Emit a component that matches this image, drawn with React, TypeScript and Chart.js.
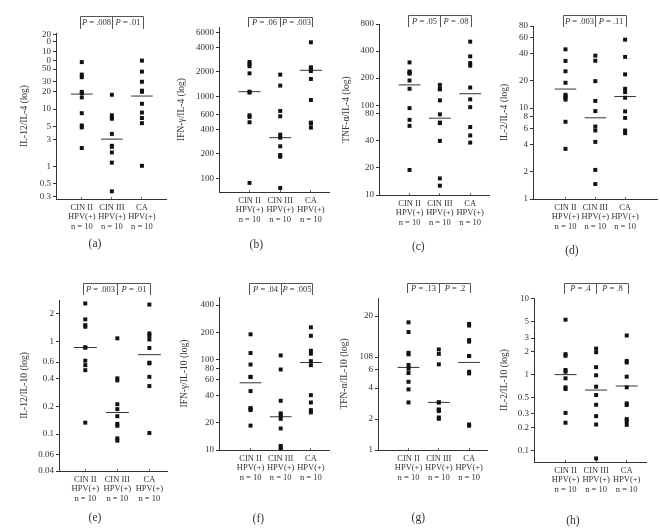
import React, { useEffect, useRef } from "react";
import { Chart, registerables } from "chart.js";
Chart.register(...registerables);

const FONT = "'Liberation Serif', 'Times New Roman', serif";

const categories = ["CIN II", "CIN III", "CA"];
const xLabelLines = [
  ["CIN II", "HPV(+)", "n = 10"],
  ["CIN III", "HPV(+)", "n = 10"],
  ["CA", "HPV(+)", "n = 10"],
];
const panelLetters = ["(a)", "(b)", "(c)", "(d)", "(e)", "(f)", "(g)", "(h)"];
const yTitles = [
  "IL-12/IL-4 (log)",
  "IFN-γ/IL-4 (log)",
  "TNF-α/IL-4 (log)",
  "IL-2/IL-4 (log)",
  "IL-12/IL-10 (log)",
  "IFN-γ/IL-10 (log)",
  "TFN-α/IL-10 (log)",
  "IL-2/IL-10 (log)",
];
const pLeft = [".008", ".06", ".05", ".003", ".003", ".04", ".13", ".4"];
const pRight = [".01", ".003", ".08", ".11", ".01", ".005", ".2", ".8"];

// (a) IL-12/IL-4
const aValues = [
  [66, 40, 36, 20, 19, 16, 8.5, 5.2, 4.8, 2.1],
  [17.8, 7.8, 7.2, 6.8, 3.7, 2.3, 2.2, 1.76, 1.17, 0.37],
  [70, 45, 30, 21, 20, 12.4, 8.7, 7.0, 5.7, 1.03],
];
const aMedians = [18.3, 3.0, 16.9];
const aTicks = [200, 150, 100, 70, 50, 30, 20, 10, 5, 3, 1, 0.5, 0.3];
const aTickLabels = ["20", "0", "10", "0", "50", "30", "20", "10", "5", "3", "1", "0.5", "0.3"];

// (b) IFN-γ/IL-4
const bValues = [
  [2650, 2500, 2350, 1925, 1150, 1120, 592, 565, 487, 88.7],
  [1855, 1362, 669, 576, 344, 316, 248, 194, 185, 77],
  [4600, 2280, 2200, 2135, 2055, 1642, 911, 482, 470, 419],
];
const bMedians = [1150, 316, 2095];
const bTicks = [6000, 4000, 2000, 1000, 600, 400, 200, 100];
const bTickLabels = ["6000", "4000", "2000", "1000", "600", "400", "200", "100"];

// (c) TNF-α/IL-4
const cValues = [
  [299, 237, 230, 224, 188, 152, 92.6, 68.6, 58.8, 19.0],
  [168, 151, 150, 113, 79, 64, 63, 40, 15.3, 12.7],
  [509, 349, 294, 275, 157, 116, 95, 57, 46, 38.3],
];
const cMedians = [168, 71.6, 134];
const cTicks = [800, 400, 200, 100, 80, 40, 20, 10];
const cTickLabels = ["800", "400", "200", "100", "80", "40", "20", "10"];

// (d) IL-2/IL-4
const dValues = [
  [44.3, 33, 25.4, 19, 14, 13.5, 13, 12.4, 7.07, 3.56],
  [37.8, 33.2, 19.8, 12.0, 9.27, 6.27, 5.67, 4.25, 2.09, 1.46],
  [56.6, 36.6, 23.5, 16.3, 15.0, 13.0, 9.2, 7.8, 5.67, 5.3],
];
const dMedians = [16.2, 7.82, 13.4];
const dTicks = [80, 60, 40, 20, 10, 8, 6, 4, 2, 1];
const dTickLabels = ["80", "60", "40", "20", "10", "8", "6", "4", "2", "1"];

// (e) IL-12/IL-10
const eValues = [
  [2.57, 1.73, 1.5, 1.44, 0.86, 0.86, 0.62, 0.555, 0.49, 0.133],
  [1.08, 0.4, 0.38, 0.21, 0.186, 0.156, 0.129, 0.123, 0.09, 0.085],
  [2.5, 1.22, 1.15, 1.05, 0.85, 0.59, 0.58, 0.415, 0.33, 0.103],
];
const eMedians = [0.86, 0.171, 0.72];
const eTicks = [2, 1, 0.6, 0.4, 0.2, 0.1, 0.06, 0.04];
const eTickLabels = ["2", "1", "0.6", "0.4", "0.2", "0.1", "0.06", "0.04"];

// (f) IFN-γ/IL-10
const fValues = [
  [190, 118, 88, 64.4, 64, 44.8, 29, 28.8, 27.6, 18.6],
  [111, 77.6, 35, 25.4, 24.2, 22.1, 17.3, 11.1, 10.6, 10.0],
  [227, 183, 125, 116, 96, 86.6, 40.4, 33.5, 27.6, 26],
];
const fMedians = [55.3, 23.3, 92.7];
const fTicks = [400, 200, 100, 80, 60, 40, 20, 10];
const fTickLabels = ["400", "200", "100", "80", "60", "40", "20", "10"];

// (g) TFN-α/IL-10
const gValues = [
  [17.4, 14.0, 8.8, 8.5, 6.7, 6.16, 5.6, 4.6, 3.88, 2.9],
  [9.5, 8.6, 6.8, 2.9, 2.9, 2.48, 2.45, 2.39, 2.07, 2.01],
  [16.8, 16.2, 11.7, 11.3, 8.2, 8.18, 5.76, 5.55, 1.77, 1.72],
];
const gMedians = [6.35, 2.9, 7.1];
const gTicks = [20, 8, 6, 4, 2, 1];
const gTickLabels = ["20", "108", "6", "4", "2", "1"];

// (h) IL-2/IL-10
const hValues = [
  [5.23, 1.84, 1.75, 1.14, 1.08, 0.885, 0.673, 0.64, 0.31, 0.23],
  [2.18, 1.95, 1.24, 0.97, 0.687, 0.533, 0.397, 0.281, 0.218, 0.078],
  [3.24, 1.5, 1.43, 0.93, 0.673, 0.414, 0.394, 0.257, 0.242, 0.216],
];
const hMedians = [0.99, 0.62, 0.7];
const hTicks = [10, 5, 3, 2, 1, 0.5, 0.3, 0.2, 0.1];
const hTickLabels = ["10", "5", "3", "2", "1", "0.5", "0.3", "0.2", "0.1"];

const yRanges = [
  [0.272, 212],
  [68.7, 7070],
  [10, 800],
  [1, 80],
  [0.04, 2.8],
  [10, 491],
  [1, 30],
  [0.07, 10.1],
];

const allValues = [aValues, bValues, cValues, dValues, eValues, fValues, gValues, hValues];
const allMedians = [aMedians, bMedians, cMedians, dMedians, eMedians, fMedians, gMedians, hMedians];
const allTicks = [aTicks, bTicks, cTicks, dTicks, eTicks, fTicks, gTicks, hTicks];
const allTickLabels = [aTickLabels, bTickLabels, cTickLabels, dTickLabels, eTickLabels, fTickLabels, gTickLabels, hTickLabels];

// Layout (positions only, in page pixels)
type Layout = {
  titleX: number; areaL: number; areaR: number; areaT: number; areaB: number;
  xMin: number; xMax: number; brT: number; brB: number; letterX: number; letterY: number;
};
const layouts: Layout[] = [
  { titleX: 25, areaL: 56, areaR: 167, areaT: 33, areaB: 199, xMin: 0.143, xMax: 3.8, brT: 15.7, brB: 29, letterX: 95, letterY: 243 },
  { titleX: 181.7, areaL: 219, areaR: 330, areaT: 27, areaB: 192, xMin: 0.005, xMax: 3.59, brT: 16.7, brB: 27.3, letterX: 256.3, letterY: 244 },
  { titleX: 346.7, areaL: 379, areaR: 490, areaT: 24, areaB: 195, xMin: -0.007, xMax: 3.62, brT: 15, brB: 26.7, letterX: 418.3, letterY: 246 },
  { titleX: 505, areaL: 533, areaR: 658, areaT: 26, areaB: 199, xMin: -0.09, xMax: 4.07, brT: 15, brB: 27, letterX: 572, letterY: 250 },
  { titleX: 25, areaL: 59, areaR: 168, areaT: 300, areaB: 471, xMin: 0.18, xMax: 3.55, brT: 283.3, brB: 295, letterX: 95, letterY: 517 },
  { titleX: 185, areaL: 219, areaR: 330, areaT: 297, areaB: 450, xMin: -0.045, xMax: 3.6, brT: 283.3, brB: 295, letterX: 258.3, letterY: 518 },
  { titleX: 345, areaL: 378, areaR: 488, areaT: 298, areaB: 450, xMin: -0.007, xMax: 3.59, brT: 283.3, brB: 293.3, letterX: 418.3, letterY: 517 },
  { titleX: 505, areaL: 534, areaR: 647, areaT: 298, areaB: 462, xMin: -0.03, xMax: 3.63, brT: 283.3, brB: 294, letterX: 573, letterY: 520 },
];

const PAD_TOP = 30;
const X_AXIS_H = 40;
const PAD_RIGHT = 3;
const MEDIAN_HALF = 0.36;

const bracketPlugin = {
  id: "bracket",
  afterDraw(chart: any, _args: any, opts: any) {
    const { ctx } = chart;
    const xs = chart.scales.x;
    const x1 = Math.round(xs.getPixelForValue(1)) - 1.5;
    const x2 = Math.round(xs.getPixelForValue(2)) + 0.5;
    const x3 = Math.round(xs.getPixelForValue(3)) + 1.5;
    const yT = Math.round(opts.top) + 0.5;
    const yB = Math.round(opts.bottom);
    ctx.save();
    ctx.strokeStyle = "#555";
    ctx.lineWidth = 1;
    ctx.beginPath();
    ctx.moveTo(x1, yB);
    ctx.lineTo(x1, yT);
    ctx.lineTo(x3, yT);
    ctx.lineTo(x3, yB);
    ctx.moveTo(x2, yT);
    ctx.lineTo(x2, yB);
    ctx.stroke();
    const yMid = (yT + yB) / 2 + 0.5;
    const drawP = (cx: number, val: string) => {
      ctx.font = `italic 8.5px ${FONT}`;
      const w1 = ctx.measureText("P").width;
      ctx.font = `8.5px ${FONT}`;
      const rest = " = " + val;
      const w2 = ctx.measureText(rest).width;
      const start = cx - (w1 + w2) / 2;
      ctx.fillStyle = "#333";
      ctx.textBaseline = "middle";
      ctx.textAlign = "left";
      ctx.font = `italic 8.5px ${FONT}`;
      ctx.fillText("P", start, yMid);
      ctx.font = `8.5px ${FONT}`;
      ctx.fillText(rest, start + w1, yMid);
    };
    drawP((x1 + x2) / 2, opts.left);
    drawP((x2 + x3) / 2, opts.right);
    ctx.restore();
  },
};

function Panel({ idx }: { idx: number }) {
  const ref = useRef<HTMLCanvasElement>(null);
  const L = layouts[idx];
  const left = Math.round(L.titleX - 5.7);
  const axisW = L.areaL - left;
  const top = L.areaT - PAD_TOP;
  const height = L.areaB - top + X_AXIS_H;
  const width = L.areaR - left + PAD_RIGHT;

  useEffect(() => {
    const values = allValues[idx];
    const medians = allMedians[idx];
    const ticks = allTicks[idx];
    const tickLabels = allTickLabels[idx];
    const [yMin, yMax] = yRanges[idx];

    const pointData: { x: number; y: number }[] = [];
    values.forEach((arr, g) => arr.forEach((v) => pointData.push({ x: g + 1, y: v })));

    const medianSets = medians.map((m, g) => ({
      label: categories[g] + " median",
      data: [
        { x: g + 1 - MEDIAN_HALF, y: m },
        { x: g + 1 + MEDIAN_HALF, y: m },
      ],
      showLine: true,
      borderColor: "#333",
      borderWidth: 1,
      pointRadius: 0,
      order: 2,
    }));

    const chart = new Chart(ref.current!, {
      type: "scatter",
      data: {
        datasets: [
          {
            label: "values",
            data: pointData,
            pointStyle: "rect",
            pointRadius: 2.8,
            backgroundColor: "#111",
            borderWidth: 0,
            order: 1,
          },
          ...medianSets,
        ],
      },
      options: {
        responsive: false,
        animation: false,
        devicePixelRatio: 1,
        layout: { padding: { top: PAD_TOP, right: PAD_RIGHT, left: 0, bottom: 0 } },
        plugins: {
          legend: { display: false },
          tooltip: { enabled: false },
          bracket: { top: L.brT - top, bottom: L.brB - top, left: pLeft[idx], right: pRight[idx] },
        } as any,
        scales: {
          x: {
            type: "linear",
            min: L.xMin,
            max: L.xMax,
            afterBuildTicks: (s: any) => {
              s.ticks = [1, 2, 3].map((v) => ({ value: v }));
            },
            afterFit: (s: any) => {
              s.height = X_AXIS_H;
            },
            grid: { display: true, drawOnChartArea: false, drawTicks: true, tickLength: -2, color: "#666" },
            border: { display: true, color: "#333", width: 1 },
            ticks: {
              autoSkip: false,
              maxRotation: 0,
              padding: 6,
              color: "#333",
              font: { family: FONT, size: 8.5, lineHeight: 1.1 },
              callback: (_v: any, i: number) => xLabelLines[i],
            },
          },
          y: {
            type: "logarithmic",
            min: yMin,
            max: yMax,
            afterBuildTicks: (s: any) => {
              s.ticks = ticks.map((v) => ({ value: v }));
            },
            afterFit: (s: any) => {
              s.width = axisW;
            },
            grid: { display: true, drawOnChartArea: false, drawTicks: true, tickLength: 3, color: "#333" },
            border: { display: true, color: "#333", width: 1 },
            ticks: {
              autoSkip: false,
              padding: 2,
              color: "#333",
              font: { family: FONT, size: 9 },
              callback: (_v: any, i: number) => tickLabels[i],
            },
            title: {
              display: true,
              text: yTitles[idx],
              padding: 0,
              color: "#333",
              font: { family: FONT, size: 9.5 },
            },
          },
        },
      } as any,
      plugins: [bracketPlugin],
    });
    return () => chart.destroy();
  }, [idx]);

  return (
    <>
      <canvas
        ref={ref}
        width={width}
        height={height}
        style={{ position: "absolute", left, top, width, height }}
      />
      <div
        style={{
          position: "absolute",
          left: L.letterX - 20,
          top: L.letterY - 7,
          width: 40,
          height: 14,
          lineHeight: "14px",
          textAlign: "center",
          fontFamily: FONT,
          fontSize: "11.5px",
          color: "#333",
        }}
      >
        {panelLetters[idx]}
      </div>
    </>
  );
}

export default function App() {
  return (
    <div style={{ position: "absolute", left: 0, top: 0, width: 660, height: 532, background: "#fff", overflow: "hidden" }}>
      {layouts.map((_, i) => (
        <Panel key={i} idx={i} />
      ))}
    </div>
  );
}
